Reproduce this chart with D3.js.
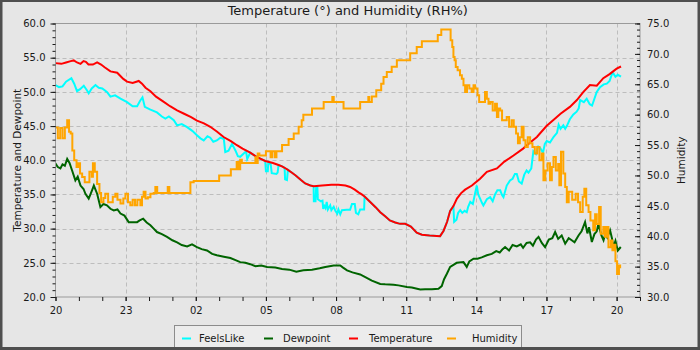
<!DOCTYPE html>
<html>
<head>
<meta charset="utf-8">
<script src="https://cdn.jsdelivr.net/npm/d3@7"></script>
<style>
  body { margin: 0; background: #e6e6e6; }
  svg { display: block; font-family: "DejaVu Sans", sans-serif; }
</style>
</head>
<body>
<svg id="chart" width="700" height="350"></svg>
<script>
// Readings as [hours since 20:00, value]
const feelsLike = [
  [0.00,51.0],[0.15,50.7],[0.3,50.8],[0.45,51.5],[0.68,52.0],[0.8,51.2],[0.92,50.1],[1.05,50.4],
  [1.21,50.9],[1.35,50.2],[1.42,49.8],[1.55,50.5],[1.71,51.0],[1.85,50.6],[2.0,50.5],[2.2,50.0],
  [2.35,49.3],[2.55,49.5],[2.78,49.0],[3.06,48.5],[3.3,47.9],[3.49,47.9],[3.62,48.7],[3.72,49.2],
  [3.82,47.8],[4.06,47.4],[4.34,47.0],[4.55,46.4],[4.7,46.1],[4.85,46.4],[5.06,45.85],[5.2,45.1],
  [5.4,45.3],[5.63,44.85],[5.85,44.3],[6.05,43.65],[6.2,43.2],[6.34,42.9],[6.5,43.5],[6.62,43.3],
  [6.75,42.7],[6.9,42.9],[7.05,43.3],[7.2,43.1],[7.26,41.2],[7.4,41.4],[7.55,42.4],[7.7,41.4],
  [7.8,40.6],[7.9,40.5],[8.05,41.0],[8.15,41.3],[8.2,40.2],[8.33,41.1],[8.6,40.5],[8.97,39.9],
  [9.0,38.4],[9.08,38.4],[9.1,39.6],[9.2,39.5],[9.25,38.1],[9.45,38.0],[9.5,38.2],[9.54,39.3],
  [9.69,39.1],[9.8,38.9],[9.82,37.2],[9.9,37.1],[9.94,38.6],[10.1,38.2],[10.26,37.8],[10.5,37.1],
  [10.68,36.6],[10.9,36.3],[11.04,36.2],[11.05,34.0],[11.12,34.0],[11.15,36.1],[11.2,36.1],[11.22,34.3],
  [11.35,34.0],[11.42,34.1],[11.45,32.9],[11.5,33.3],[11.55,33.0],[11.6,33.9],[11.65,32.8],[11.75,33.4],
  [11.8,32.7],[11.9,33.2],[11.97,32.6],[12.05,32.2],[12.1,32.8],[12.18,32.1],[12.25,32.7],[12.45,32.75],
  [12.6,32.75],[12.68,33.6],[12.8,33.6],[12.85,32.3],[12.95,32.1],[13.03,32.8],[13.2,32.8],[13.22,34.7],
  [13.46,33.9],[13.7,33.1],[13.89,32.4],[14.1,31.8],[14.3,31.2],[14.53,30.9],[14.74,30.7],[14.96,30.7],
  [15.2,30.3],[15.45,29.4],[15.67,29.1],[16.0,29.0],[16.45,28.9],[16.6,29.7],[16.75,31.0],[16.88,32.6],
  [17.02,33.3],[17.05,31.0],[17.15,31.3],[17.22,32.3],[17.31,32.7],[17.4,32.3],[17.5,32.6],[17.59,32.4],
  [17.65,33.2],[17.74,33.9],[17.85,33.6],[17.95,35.2],[18.02,36.3],[18.08,35.0],[18.16,34.4],[18.25,33.7],
  [18.3,33.4],[18.45,34.3],[18.59,34.6],[18.7,34.0],[18.8,35.0],[18.9,35.6],[19.02,35.6],[19.1,34.9],
  [19.16,34.6],[19.3,36.3],[19.44,37.05],[19.55,37.3],[19.65,38.0],[19.73,38.0],[19.82,36.9],[19.94,36.6],
  [20.05,37.9],[20.15,38.5],[20.23,38.2],[20.35,38.8],[20.44,41.3],[20.55,40.9],[20.65,42.0],[20.73,41.8],
  [20.85,41.1],[20.93,42.4],[21.01,42.8],[21.15,42.6],[21.3,43.4],[21.45,44.0],[21.52,45.2],[21.6,44.6],
  [21.72,45.1],[21.8,44.6],[21.87,45.0],[22.0,46.0],[22.15,46.7],[22.29,47.1],[22.38,47.6],[22.44,48.8],
  [22.6,48.5],[22.72,49.0],[22.85,48.2],[22.95,48.0],[23.05,49.0],[23.15,50.0],[23.29,50.7],[23.45,51.1],
  [23.58,51.2],[23.7,51.6],[23.8,52.6],[23.86,52.7],[23.95,52.2],[24.05,52.5],[24.15,52.3]
];

const dewpoint = [
  [0.00,39.5],[0.1,39.0],[0.21,38.8],[0.3,39.4],[0.4,39.2],[0.5,40.2],[0.6,39.6],[0.71,38.5],
  [0.85,37.05],[0.95,37.6],[1.07,36.3],[1.2,35.8],[1.28,35.1],[1.42,34.4],[1.55,35.5],[1.64,36.3],
  [1.78,35.1],[1.92,33.15],[2.05,33.6],[2.2,33.4],[2.35,32.9],[2.49,32.65],[2.65,32.8],[2.78,32.2],
  [2.95,31.9],[3.13,30.95],[3.49,30.95],[3.6,31.2],[3.75,31.45],[3.9,30.9],[4.06,30.5],[4.2,30.0],
  [4.34,29.5],[4.55,29.2],[4.77,28.8],[5.0,28.3],[5.2,28.0],[5.4,27.6],[5.63,27.4],[5.84,27.7],
  [6.05,27.3],[6.25,27.0],[6.48,26.8],[6.7,26.3],[6.9,26.1],[7.2,25.9],[7.48,25.7],[7.7,25.4],
  [7.9,25.1],[8.12,25.0],[8.33,24.8],[8.55,24.5],[8.8,24.6],[9.05,24.4],[9.4,24.3],[9.69,24.1],
  [10.0,24.0],[10.3,23.7],[10.6,23.9],[10.97,24.0],[11.3,24.2],[11.54,24.4],[11.9,24.6],[12.18,24.6],
  [12.3,24.3],[12.47,23.9],[12.7,23.6],[13.03,23.3],[13.25,22.9],[13.53,22.4],[13.89,21.9],[14.1,21.85],
  [14.46,21.8],[14.67,21.7],[15.03,21.45],[15.24,21.4],[15.6,21.1],[15.81,21.15],[16.1,21.15],[16.38,21.2],
  [16.52,21.6],[16.62,22.6],[16.74,23.4],[16.88,24.4],[17.16,25.0],[17.45,25.1],[17.59,24.4],[17.7,25.2],
  [17.88,25.6],[18.05,25.6],[18.23,25.8],[18.45,26.1],[18.66,26.3],[18.85,26.7],[19.0,26.5],[19.1,26.9],
  [19.23,27.3],[19.4,26.8],[19.55,27.6],[19.73,27.4],[19.9,27.7],[20.0,27.2],[20.15,27.9],[20.3,28.0],
  [20.42,27.5],[20.55,28.4],[20.66,28.8],[20.8,27.9],[20.94,27.3],[21.1,28.4],[21.25,28.6],[21.37,29.5],
  [21.5,28.5],[21.65,29.0],[21.8,27.8],[21.95,28.6],[22.08,28.3],[22.2,28.0],[22.37,29.0],[22.5,29.6],
  [22.65,30.95],[22.75,29.3],[22.82,30.2],[22.94,28.05],[23.05,29.2],[23.15,29.6],[23.22,30.7],[23.35,29.0],
  [23.44,28.3],[23.52,29.3],[23.6,28.7],[23.72,29.75],[23.8,28.6],[23.86,27.3],[23.95,28.2],[24.05,26.8],
  [24.15,27.2]
];

const temperature = [
  [0.00,54.2],[0.25,54.1],[0.45,54.3],[0.65,54.5],[0.78,54.6],[0.92,54.3],[1.07,54.1],[1.2,54.5],
  [1.3,54.4],[1.41,54.0],[1.6,54.0],[1.78,54.3],[1.95,54.0],[2.1,53.6],[2.35,53.0],[2.64,52.8],
  [2.9,51.9],[3.06,51.5],[3.3,51.3],[3.56,51.6],[3.7,51.2],[3.85,50.6],[4.06,50.1],[4.3,49.3],
  [4.6,48.6],[4.9,47.9],[5.2,47.3],[5.5,46.8],[5.8,46.3],[6.05,45.8],[6.35,45.4],[6.62,44.9],
  [6.9,44.2],[7.19,43.4],[7.5,42.8],[7.76,42.2],[8.0,41.7],[8.33,41.1],[8.6,40.5],[8.97,39.9],
  [9.3,39.6],[9.54,39.3],[9.69,39.1],[9.8,38.9],[9.94,38.6],[10.1,38.2],[10.26,37.8],[10.5,37.1],
  [10.68,36.6],[10.9,36.3],[11.04,36.2],[11.4,36.3],[11.8,36.4],[12.1,36.4],[12.4,36.3],[12.6,36.1],
  [12.8,35.7],[12.96,35.3],[13.1,35.0],[13.22,34.7],[13.46,33.9],[13.7,33.1],[13.89,32.4],[14.1,31.8],
  [14.3,31.2],[14.53,30.9],[14.74,30.7],[14.96,30.7],[15.2,30.3],[15.45,29.4],[15.67,29.1],[16.0,29.0],
  [16.45,28.9],[16.6,29.7],[16.75,31.0],[16.88,32.6],[17.02,33.3],[17.17,34.4],[17.35,35.2],[17.52,35.7],
  [17.81,36.3],[18.16,37.3],[18.45,38.3],[18.88,38.8],[19.2,39.8],[19.59,40.7],[20.0,41.7],[20.3,42.6],
  [20.59,43.4],[21.0,45.0],[21.37,46.1],[21.6,46.8],[22.0,47.8],[22.3,48.8],[22.58,50.0],[22.86,51.0],
  [23.15,50.9],[23.43,52.0],[23.7,52.6],[24.0,53.4],[24.15,53.65]
];

const humidity = [
  [0.00,57.9],[0.1,56.1],[0.2,57.8],[0.3,56.1],[0.4,57.9],[0.5,59.1],[0.58,57.2],[0.65,56.9],
  [0.72,54.1],[0.8,52.5],[0.9,51.4],[0.97,52.0],[1.05,50.3],[1.14,49.75],[1.25,48.9],[1.45,50.6],
  [1.55,49.8],[1.6,52.0],[1.68,50.6],[1.78,48.6],[1.88,47.1],[1.95,45.6],[2.05,46.3],[2.13,47.0],
  [2.25,45.6],[2.45,46.5],[2.56,47.0],[2.65,46.0],[2.78,45.4],[2.9,46.2],[2.99,47.0],[3.1,45.6],
  [3.2,45.1],[3.3,46.0],[3.4,45.1],[3.5,46.0],[3.63,45.1],[3.7,46.5],[3.77,47.3],[3.85,46.2],
  [3.95,46.4],[4.06,47.0],[4.2,47.1],[4.27,48.1],[4.35,47.1],[4.7,47.1],[4.8,48.1],[4.87,47.1],
  [5.63,47.1],[5.77,48.9],[5.91,49.1],[7.0,50.0],[7.5,51.0],[7.75,52.2],[7.82,51.0],[7.9,52.6],
  [7.97,52.05],[8.55,53.0],[8.6,52.05],[8.65,53.6],[8.72,53.3],[9.0,54.0],[9.2,53.0],[9.27,54.0],
  [9.38,53.0],[9.45,54.0],[9.69,55.0],[9.97,56.0],[10.19,56.9],[10.4,58.0],[10.53,59.1],[10.6,60.0],
  [10.97,61.0],[11.47,62.1],[11.84,62.9],[11.9,62.1],[12.32,61.0],[13.03,62.1],[13.38,62.9],[13.42,62.1],
  [13.53,63.0],[13.72,64.0],[13.93,65.1],[14.03,66.2],[14.17,67.0],[14.38,67.9],[14.6,68.95],[15.17,70.1],
  [15.45,71.15],[15.67,72.1],[16.35,73.1],[16.5,74.0],[16.9,72.25],[16.97,71.15],[17.02,69.5],[17.07,68.95],
  [17.12,67.85],[17.2,67.3],[17.3,66.5],[17.38,65.9],[17.45,64.85],[17.52,63.75],[17.6,64.85],[17.7,64.3],
  [17.8,63.75],[17.88,64.85],[17.95,64.3],[18.05,63.2],[18.12,62.1],[18.37,63.75],[18.45,62.6],[18.52,61.8],
  [18.6,62.1],[18.7,60.7],[18.8,61.8],[18.88,59.6],[18.94,61.0],[19.02,60.7],[19.1,59.1],[19.3,59.6],
  [19.4,58.0],[19.51,59.1],[19.6,58.0],[19.7,56.9],[19.78,55.3],[19.86,56.3],[19.94,58.0],[20.02,55.8],
  [20.1,54.7],[20.2,56.3],[20.3,55.3],[20.4,54.7],[20.5,53.6],[20.6,54.7],[20.7,52.5],[20.8,53.6],
  [20.87,49.2],[20.95,50.8],[21.05,52.0],[21.15,49.2],[21.23,51.4],[21.3,53.05],[21.4,50.8],[21.5,51.9],
  [21.55,48.4],[21.62,53.9],[21.72,50.3],[21.8,48.1],[21.87,45.6],[21.95,47.3],[22.1,46.0],[22.25,47.0],
  [22.35,45.6],[22.44,44.0],[22.55,46.5],[22.62,47.8],[22.7,45.1],[22.8,44.0],[22.88,42.6],[23.0,41.0],
  [23.08,43.6],[23.15,42.0],[23.25,44.8],[23.32,40.4],[23.43,41.5],[23.5,39.9],[23.58,41.5],[23.65,38.2],
  [23.75,39.3],[23.82,37.7],[23.9,38.6],[23.95,35.9],[24.02,33.8],[24.1,35.2],[24.15,34.9]
];

const seriesNames = ["FeelsLike", "Dewpoint", "Temperature", "Humidity"];
const seriesColors = ["#00ffff", "#006400", "#ff0000", "#ffa500"];
const titleText = "Temperature (\u00b0) and Humidity (RH%)";
const leftAxisTitle = "Temperature and Dewpoint";
const rightAxisTitle = "Humidity";

const W = 700, H = 350;
const plot = { left: 55.5, right: 640, top: 23.5, bottom: 297 };
const start = new Date(2024, 0, 1, 20, 0, 0);
const toDate = h => new Date(+start + h * 3600000);

const x = d3.scaleTime().domain([start, toDate(25)]).range([plot.left, plot.right]);
const yLeft = d3.scaleLinear().domain([20, 60]).range([plot.bottom, plot.top]);
const yRight = d3.scaleLinear().domain([30, 75]).range([plot.bottom, plot.top]);

const svg = d3.select("#chart");

// background + dark outer frame
svg.append("rect").attr("x", 0).attr("y", 0).attr("width", W).attr("height", H).attr("fill", "#4f4f4f");
svg.append("rect").attr("x", 2.5).attr("y", 2).attr("width", W - 5).attr("height", H - 5).attr("fill", "#e6e6e6");

// title
svg.append("text").attr("x", (plot.left + plot.right) / 2).attr("y", 15)
  .attr("text-anchor", "middle").attr("font-size", 13).attr("fill", "#1a1a1a").text(titleText);

// hourly ticks, labelled every third hour counted from the start time
const minorHours = d3.timeHour.every(1).range(start, toDate(25.01));
const majorHours = minorHours.filter((d, i) => i % 3 === 0);

// grid
const grid = svg.append("g").attr("stroke", "#bdbdbd").attr("stroke-dasharray", "4,3").attr("stroke-width", 1);
grid.selectAll("line.v").data(majorHours.slice(1)).join("line")
  .attr("x1", d => Math.round(x(d)) + 0.5).attr("x2", d => Math.round(x(d)) + 0.5)
  .attr("y1", plot.top).attr("y2", plot.bottom);
grid.selectAll("line.h").data(d3.range(25, 60, 5)).join("line")
  .attr("x1", plot.left).attr("x2", plot.right)
  .attr("y1", d => Math.round(yLeft(d)) + 0.5).attr("y2", d => Math.round(yLeft(d)) + 0.5);

// series
svg.append("clipPath").attr("id", "plotClip").append("rect")
  .attr("x", plot.left).attr("y", plot.top)
  .attr("width", plot.right - plot.left).attr("height", plot.bottom - plot.top);

const seriesData = [feelsLike, dewpoint, temperature, humidity];
const seriesScale = [yLeft, yLeft, yLeft, yRight];
const seriesCurve = [d3.curveLinear, d3.curveLinear, d3.curveLinear, d3.curveStepAfter];
const lines = svg.append("g").attr("clip-path", "url(#plotClip)");
seriesData.forEach((data, i) => {
  const y = seriesScale[i];
  const line = d3.line().x(d => x(toDate(d[0]))).y(d => y(d[1])).curve(seriesCurve[i]);
  lines.append("path").datum(data).attr("d", line)
    .attr("fill", "none").attr("stroke", seriesColors[i]).attr("stroke-width", 2)
    .attr("stroke-linejoin", "miter").attr("stroke-linecap", "square");
});

// plot frame
svg.append("rect").attr("x", plot.left).attr("y", plot.top)
  .attr("width", plot.right - plot.left).attr("height", plot.bottom - plot.top)
  .attr("fill", "none").attr("stroke", "#9a9a9a").attr("stroke-width", 1);

function styleAxis(g) {
  g.select(".domain").remove();
  g.selectAll(".tick line").attr("stroke", "#1a1a1a");
  g.selectAll(".tick text").attr("fill", "#1a1a1a").attr("font-family", "DejaVu Sans").attr("font-size", 10);
}

// x axis
svg.append("g").attr("transform", `translate(0,${plot.bottom})`)
  .call(d3.axisBottom(x).tickValues(minorHours).tickFormat("").tickSize(4)).call(styleAxis);
svg.append("g").attr("transform", `translate(0,${plot.bottom})`)
  .call(d3.axisBottom(x).tickValues(majorHours).tickFormat(d3.timeFormat("%H")).tickSize(4).tickPadding(6))
  .call(styleAxis);

// left axis
svg.append("g").attr("transform", `translate(${plot.left},0)`)
  .call(d3.axisLeft(yLeft).tickValues(d3.range(20, 61, 1)).tickFormat("").tickSize(3)).call(styleAxis);
svg.append("g").attr("transform", `translate(${plot.left},0)`)
  .call(d3.axisLeft(yLeft).tickValues(d3.range(20, 61, 5)).tickFormat(d3.format(".1f")).tickSize(5).tickPadding(5))
  .call(styleAxis);

// right axis (ticks point into the plot)
svg.append("g").attr("transform", `translate(${plot.right},0)`)
  .call(d3.axisRight(yRight).tickValues(d3.range(30, 76, 1)).tickFormat("").tickSizeInner(-3).tickSizeOuter(0)).call(styleAxis);
svg.append("g").attr("transform", `translate(${plot.right},0)`)
  .call(d3.axisRight(yRight).tickValues(d3.range(30, 76, 5)).tickFormat(d3.format(".1f")).tickSizeInner(-5).tickSizeOuter(0).tickPadding(7))
  .call(styleAxis);

// axis titles
svg.append("text").attr("transform", `translate(20.5,${(plot.top + plot.bottom) / 2}) rotate(-90)`)
  .attr("text-anchor", "middle").attr("font-size", 10.5).attr("fill", "#1a1a1a").text(leftAxisTitle);
svg.append("text").attr("transform", `translate(685,${(plot.top + plot.bottom) / 2}) rotate(-90)`)
  .attr("text-anchor", "middle").attr("font-size", 10.5).attr("fill", "#1a1a1a").text(rightAxisTitle);

// legend
const legend = svg.append("g");
legend.append("rect").attr("x", 174.5).attr("y", 325.5).attr("width", 347).attr("height", 30)
  .attr("fill", "#ececec").attr("stroke", "#8c8c8c");
const swatchX = [182, 264, 349, 447];
const labelX = [199, 283, 369, 472];
seriesNames.forEach((name, i) => {
  legend.append("line").attr("x1", swatchX[i]).attr("x2", swatchX[i] + 9)
    .attr("y1", 338.5).attr("y2", 338.5).attr("stroke", seriesColors[i]).attr("stroke-width", 2);
  legend.append("text").attr("x", labelX[i]).attr("y", 341.5)
    .attr("font-size", 10).attr("fill", "#1a1a1a").text(name);
});

// dark frame bottom edge drawn over the legend box
svg.append("rect").attr("x", 0).attr("y", H - 3).attr("width", W).attr("height", 3).attr("fill", "#4f4f4f");
</script>
</body>
</html>
